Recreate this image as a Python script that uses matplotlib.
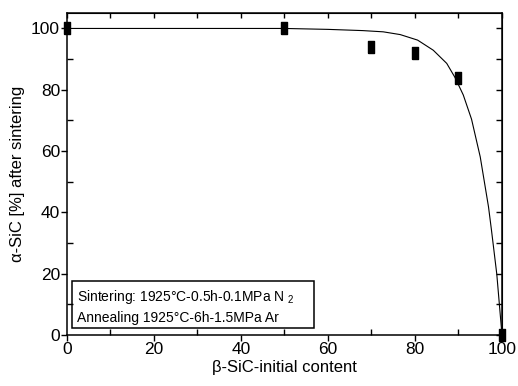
import matplotlib
matplotlib.use("Agg")
import matplotlib.pyplot as plt
from matplotlib.patches import Rectangle
from matplotlib.ticker import MultipleLocator

plt.rcParams['font.family'] = ['Liberation Sans', 'DejaVu Sans']
plt.rcParams['mathtext.fontset'] = 'custom'
plt.rcParams['mathtext.rm'] = 'Liberation Sans'

# measured points
beta_content = [0, 50, 70, 80, 90, 100]
alpha_sic = [100, 100, 94, 92, 84, 0]

# fitted curve
curve_x = [0, 50, 60, 68, 72.7, 76.6, 80.6, 84.2, 87.3, 89.2, 91.1, 93.0,
           95.0, 96.9, 97.6, 98.8, 100]
curve_y = [100, 100, 99.7, 99.3, 98.9, 98.0, 96.2, 92.9, 88.6, 84.0, 78.3, 70.4,
           58.1, 41.8, 34.0, 19.9, 0]

box_lines = ["Sintering: 1925°C-0.5h-0.1MPa N $_\\mathrm{2}$",
             "Annealing 1925°C-6h-1.5MPa Ar"]

fig = plt.figure(figsize=(5.18, 3.86), dpi=100)
ax = fig.add_axes([0.1293, 0.132, 0.8398, 0.834])

ax.plot(curve_x, curve_y, color='black', lw=0.8)

# tall thin rectangle marker
rect = [(-0.26, -0.5), (0.26, -0.5), (0.26, 0.5), (-0.26, 0.5), (-0.26, -0.5)]
ax.plot(beta_content, alpha_sic, linestyle='none', marker=rect, markersize=8,
        color='black', clip_on=False, zorder=5)

ax.set_xlim(0, 100)
ax.set_ylim(0, 105)
ax.xaxis.set_major_locator(MultipleLocator(20))
ax.xaxis.set_minor_locator(MultipleLocator(10))
ax.yaxis.set_major_locator(MultipleLocator(20))
ax.yaxis.set_minor_locator(MultipleLocator(10))
ax.tick_params(which='major', direction='out', length=4, width=1, labelsize=12.5, pad=1)
ax.tick_params(which='minor', direction='in', length=4, width=1)
for s in ax.spines.values():
    s.set_linewidth(1.1)

# top / right ticks pointing in
top = ax.secondary_xaxis('top')
top.xaxis.set_major_locator(MultipleLocator(10))
top.tick_params(direction='in', length=3.5, width=1, labeltop=False)
right = ax.secondary_yaxis('right')
right.yaxis.set_major_locator(MultipleLocator(10))
right.tick_params(direction='in', length=4, width=1, labelright=False)

ax.set_xlabel("β-SiC-initial content", fontsize=12, labelpad=2)
ax.set_ylabel("α-SiC [%] after sintering", fontsize=12, labelpad=4)

ax.add_patch(Rectangle((1.15, 2.3), 55.6, 15.4, fill=False, lw=1.1, ec='black', zorder=4))
ax.text(2.4, 12.3, box_lines[0], fontsize=10, va='center')
ax.text(2.4, 5.5, box_lines[1], fontsize=10, va='center')

fig.savefig("out.png", dpi=100)
